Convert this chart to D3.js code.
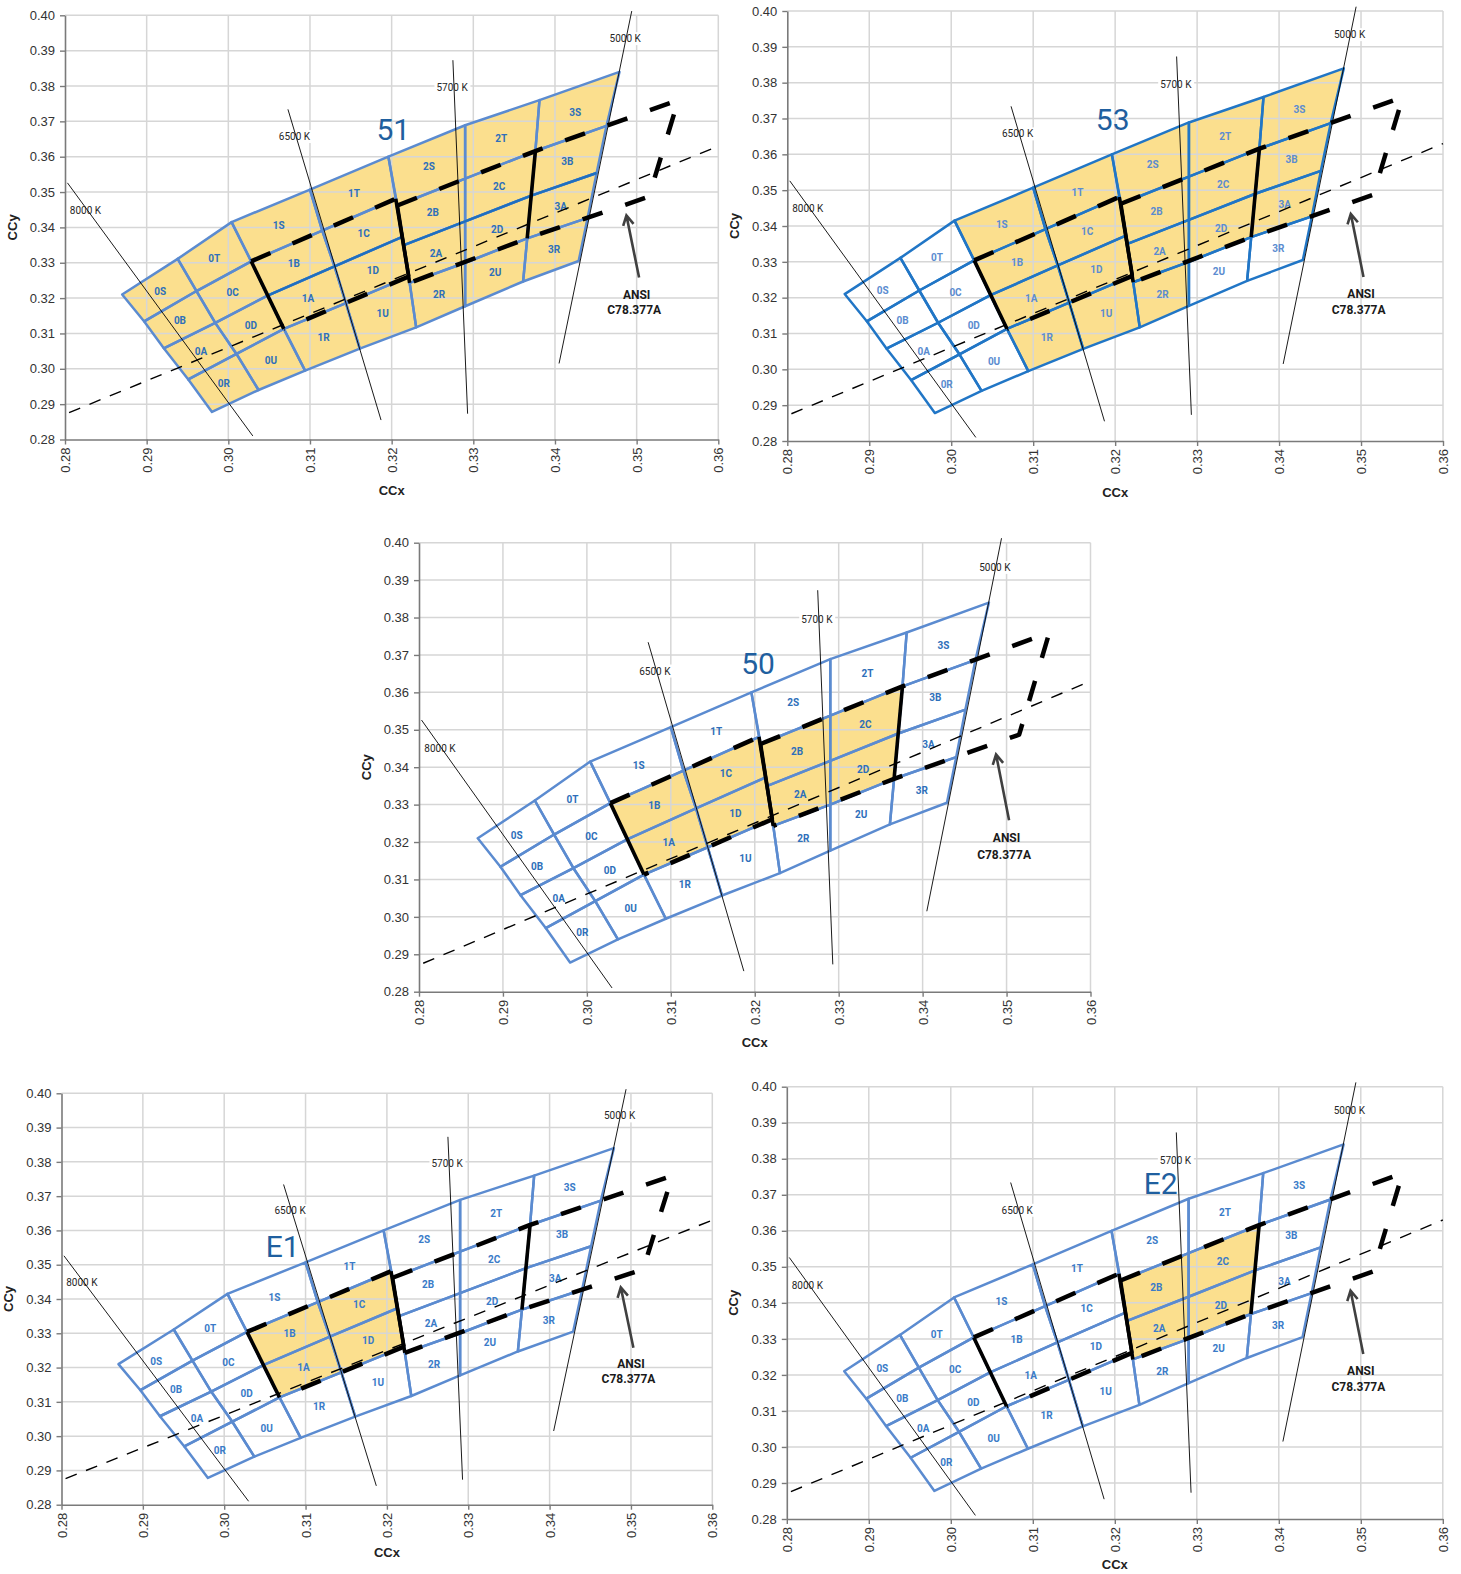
<!DOCTYPE html>
<html>
<head>
<meta charset="utf-8">
<script src="https://cdn.jsdelivr.net/npm/d3@7"></script>
<style>
  body { margin: 0; background: #fff; }
  svg { display: block; }
</style>
</head>
<body>
<svg id="chart" width="1461" height="1574"></svg>
<script>
const X_TICKS = [0.28, 0.29, 0.30, 0.31, 0.32, 0.33, 0.34, 0.35, 0.36];
const Y_TICKS = [0.28, 0.29, 0.30, 0.31, 0.32, 0.33, 0.34, 0.35, 0.36, 0.37, 0.38, 0.39, 0.40];

// bin grid vertices, rows top to bottom. index 4 / 5 = left / right side of the 1x|2x boundary
const ROW_0 = [[0.2870, 0.3210], [0.2938, 0.3311], [0.3004, 0.3415], [0.3100, 0.3507], [0.3196, 0.3600], [0.3196, 0.3600], [0.3290, 0.3689], [0.3381, 0.3760], [0.3479, 0.3840]];
const ROW_1 = [[0.2897, 0.3134], [0.2961, 0.3220], [0.3028, 0.3304], [0.3115, 0.3391], [0.3205, 0.3481], [0.3207, 0.3462], [0.3290, 0.3538], [0.3376, 0.3616], [0.3463, 0.3687]];
const ROW_2 = [[0.2921, 0.3058], [0.2984, 0.3130], [0.3048, 0.3207], [0.3130, 0.3290], [0.3213, 0.3373], [0.3215, 0.3350], [0.3290, 0.3417], [0.3371, 0.3490], [0.3451, 0.3554]];
const ROW_3 = [[0.2951, 0.2970], [0.3010, 0.3042], [0.3068, 0.3113], [0.3144, 0.3186], [0.3221, 0.3261], [0.3222, 0.3243], [0.3290, 0.3300], [0.3366, 0.3369], [0.3440, 0.3427]];
const ROW_4 = [[0.2980, 0.2878], [0.3037, 0.2940], [0.3094, 0.2995], [0.3161, 0.3057], [0.3230, 0.3117], [0.3230, 0.3117], [0.3290, 0.3177], [0.3361, 0.3247], [0.3429, 0.3305]];
const ROWS = [ROW_0, ROW_1, ROW_2, ROW_3, ROW_4];

// bin names per column, top to bottom
const BIN_COLUMNS = [
  ['0S', '0B', '0A', '0R'],
  ['0T', '0C', '0D', '0U'],
  ['1S', '1B', '1A', '1R'],
  ['1T', '1C', '1D', '1U'],
  ['2S', '2B', '2A', '2R'],
  ['2T', '2C', '2D', '2U'],
  ['3S', '3B', '3A', '3R']
];

const FILL_51 = BIN_COLUMNS.flat();
const FILL_53 = ['1S', '1B', '1A', '1R', '1T', '1C', '1D', '1U', '2S', '2B', '2A', '2R', '2T', '2C', '2D', '3S', '3B', '3A'];
const FILL_50 = ['1B', '1A', '1C', '1D', '2B', '2A', '2C', '2D'];
const FILL_E1 = ['1B', '1A', '1C', '1D'];
const FILL_E2 = ['2B', '2A', '2C', '2D'];

// ANSI C78.377A quadrangles
const ANSI_DASH_6500_TOP = [[0.3028, 0.3304], [0.3205, 0.3481]];
const ANSI_DASH_5700_5000 = [[0.3207, 0.3462], [0.3376, 0.3616], [0.3551, 0.3760], [0.3515, 0.3487], [0.3366, 0.3369], [0.3222, 0.3243]];
const ANSI_DASH_6500_BOTTOM = [[0.3221, 0.3261], [0.3068, 0.3113]];
const ANSI_SOLID = [
  [[0.3028, 0.3304], [0.3068, 0.3113]],
  [[0.3205, 0.3481], [0.3221, 0.3261]],
  [[0.3207, 0.3462], [0.3222, 0.3243]],
  [[0.3376, 0.3616], [0.3366, 0.3369]]
];

const LOCUS = [[0.2805, 0.2876], [0.3600, 0.3630]];

const CCT_NAMES = ['8000 K', '6500 K', '5700 K', '5000 K'];
const CCT_LINES = [
  [[0.2803, 0.3526], [0.3030, 0.2810]],
  [[0.3073, 0.3734], [0.3187, 0.2855]],
  [[0.3275, 0.3873], [0.3293, 0.2873]],
  [[0.3494, 0.4012], [0.3405, 0.3015]]
];
const CCT_LABEL_AT = [[0.2825, 0.3449], [0.3081, 0.3657], [0.3274, 0.3795], [0.3486, 0.3934]];

const ANSI_TEXT = ['ANSI', 'C78.377A'];
const ANSI_TEXT_AT = [[0.3500, 0.3210], [0.3497, 0.3166]];
const ANSI_ARROW = [[0.3503, 0.3258], [0.34875, 0.3434]];

const PANELS = [
  { code: '51', left: 65, right: 718.3, top: 15.3, bottom: 439.5, fill: FILL_51, codeAt: [0.3202, 0.3677],
    stroke: '#5b8bd0', dark: [ROW_2.slice(2)], labelColor: '#2e6fba', titleGap: 51 },
  { code: '53', left: 787.3, right: 1443, top: 11, bottom: 441, fill: FILL_53, codeAt: [0.3197, 0.3698],
    stroke: '#2176c6', dark: [], labelColor: '#5b8cd0', titleGap: 51 },
  { code: '50', left: 419, right: 1090.5, top: 542.7, bottom: 991.7, fill: FILL_50, codeAt: [0.3204, 0.3678],
    stroke: '#5b8bd0', dark: [], labelColor: '#2e6fba', titleGap: 51 },
  { code: 'E1', left: 61.5, right: 712.3, top: 1093.3, bottom: 1504.7, fill: FILL_E1, codeAt: [0.3072, 0.3553],
    stroke: '#5b8bd0', dark: [], labelColor: '#3a7bc8', titleGap: 48 },
  { code: 'E2', left: 786.8, right: 1442.8, top: 1086.7, bottom: 1519, fill: FILL_E2, codeAt: [0.3256, 0.3732],
    stroke: '#5b8bd0', dark: [], labelColor: '#3a7bc8', titleGap: 45 }
];

const YELLOW = '#fbdf8e';
const GRID = '#d6d6d6';
const CODE_BLUE = '#1f5f9f';
const fmt = d3.format('.2f');
const svg = d3.select('#chart');

const drawPanel = (p) => {
  const x = d3.scaleLinear().domain([X_TICKS[0], X_TICKS[X_TICKS.length - 1]]).range([p.left, p.right]);
  const y = d3.scaleLinear().domain([Y_TICKS[0], Y_TICKS[Y_TICKS.length - 1]]).range([p.bottom, p.top]);
  const line = d3.line().x(d => x(d[0])).y(d => y(d[1]));

  const g = svg.append('g');
  const fillLayer = g.append('g');
  const gridLayer = g.append('g');
  const bgLayer = g.append('g');
  const binLayer = g.append('g');
  const topLayer = g.append('g');

  // build bin polygons from the vertex grid
  const bins = [];
  BIN_COLUMNS.forEach((names, j) => {
    const li = j < 4 ? j : j + 1;
    const ri = j + 1 <= 4 ? j + 1 : j + 2;
    names.forEach((name, i) => {
      bins.push({ name: name, pts: [ROWS[i][li], ROWS[i][ri], ROWS[i + 1][ri], ROWS[i + 1][li]] });
    });
  });

  fillLayer.selectAll('path')
    .data(bins.filter(b => p.fill.includes(b.name)))
    .join('path')
      .attr('d', b => line(b.pts) + 'Z')
      .attr('fill', YELLOW);

  // gridlines
  gridLayer.selectAll('line.gx')
    .data(X_TICKS.slice(1))
    .join('line')
      .attr('class', 'gx')
      .attr('x1', d => x(d)).attr('x2', d => x(d))
      .attr('y1', y(Y_TICKS[0])).attr('y2', y(Y_TICKS[Y_TICKS.length - 1]))
      .attr('stroke', GRID).attr('stroke-width', 1.5);
  gridLayer.selectAll('line.gy')
    .data(Y_TICKS.slice(1))
    .join('line')
      .attr('class', 'gy')
      .attr('x1', x(X_TICKS[0])).attr('x2', x(X_TICKS[X_TICKS.length - 1]))
      .attr('y1', d => y(d)).attr('y2', d => y(d))
      .attr('stroke', GRID).attr('stroke-width', 1.5);

  // bin outlines
  binLayer.selectAll('path.bin')
    .data(bins)
    .join('path')
      .attr('class', 'bin')
      .attr('d', b => line(b.pts) + 'Z')
      .attr('fill', 'none')
      .attr('stroke', p.stroke)
      .attr('stroke-width', 2.5)
      .attr('stroke-linejoin', 'round');

  binLayer.selectAll('path.dark')
    .data(p.dark)
    .join('path')
      .attr('class', 'dark')
      .attr('d', d => line(d))
      .attr('fill', 'none')
      .attr('stroke', '#1f6fbf')
      .attr('stroke-width', 2.5);

  binLayer.selectAll('text')
    .data(bins)
    .join('text')
      .attr('x', b => x(d3.mean(b.pts, q => q[0])))
      .attr('y', b => y(d3.mean(b.pts, q => q[1])))
      .attr('text-anchor', 'middle')
      .attr('dominant-baseline', 'central')
      .style('font-family', 'Roboto, sans-serif')
      .style('font-weight', 'bold')
      .style('font-size', '10px')
      .style('fill', p.labelColor)
      .text(b => b.name);

  // thin dashed locus
  topLayer.append('path')
    .attr('d', line(LOCUS))
    .attr('fill', 'none')
    .attr('stroke', '#000')
    .attr('stroke-width', 1.4)
    .attr('stroke-dasharray', '12,10');

  // CCT lines and labels
  topLayer.selectAll('path.cct')
    .data(CCT_LINES)
    .join('path')
      .attr('class', 'cct')
      .attr('d', d => line(d))
      .attr('fill', 'none')
      .attr('stroke', '#000')
      .attr('stroke-width', 0.9);

  const cctText = topLayer.selectAll('text.cct')
    .data(CCT_NAMES)
    .join('text')
      .attr('class', 'cct')
      .attr('x', (d, i) => x(CCT_LABEL_AT[i][0]))
      .attr('y', (d, i) => y(CCT_LABEL_AT[i][1]))
      .attr('text-anchor', 'middle')
      .attr('dominant-baseline', 'central')
      .style('font-family', 'Roboto, sans-serif')
      .style('font-size', '10px')
      .style('fill', '#262626')
      .text(d => d);

  cctText.each(function () {
    const bb = this.getBBox();
    bgLayer.append('rect')
      .attr('x', bb.x - 2).attr('y', bb.y - 1)
      .attr('width', bb.width + 4).attr('height', bb.height + 2)
      .attr('fill', '#fff');
  });

  // ANSI quadrangles
  [ANSI_DASH_6500_TOP, ANSI_DASH_5700_5000, ANSI_DASH_6500_BOTTOM].forEach(seg => {
    topLayer.append('path')
      .attr('d', line(seg))
      .attr('fill', 'none')
      .attr('stroke', '#000')
      .attr('stroke-width', 4.5)
      .attr('stroke-linejoin', 'round')
      .attr('stroke-dasharray', '21,24');
  });
  topLayer.selectAll('path.solid')
    .data(ANSI_SOLID)
    .join('path')
      .attr('class', 'solid')
      .attr('d', d => line(d))
      .attr('fill', 'none')
      .attr('stroke', '#000')
      .attr('stroke-width', 3.6);

  topLayer.selectAll('text.ansi')
    .data(ANSI_TEXT)
    .join('text')
      .attr('class', 'ansi')
      .attr('x', (d, i) => x(ANSI_TEXT_AT[i][0]))
      .attr('y', (d, i) => y(ANSI_TEXT_AT[i][1]))
      .attr('text-anchor', 'middle')
      .attr('dominant-baseline', 'central')
      .style('font-family', 'Roboto, sans-serif')
      .style('font-weight', 'bold')
      .style('font-size', '12px')
      .style('fill', '#1a1a1a')
      .text(d => d);

  // arrow pointing at the quadrangles
  const sx = x(ANSI_ARROW[0][0]), sy = y(ANSI_ARROW[0][1]);
  const tx = x(ANSI_ARROW[1][0]), ty = y(ANSI_ARROW[1][1]);
  const len = Math.hypot(tx - sx, ty - sy);
  const ux = (tx - sx) / len, uy = (ty - sy) / len;
  const head = (a) => {
    const c = Math.cos(a), s = Math.sin(a);
    return [tx - 11 * (ux * c - uy * s), ty - 11 * (ux * s + uy * c)];
  };
  const h1 = head(0.5), h2 = head(-0.5);
  topLayer.append('path')
    .attr('d', `M${sx},${sy}L${tx},${ty}M${h1[0]},${h1[1]}L${tx},${ty}L${h2[0]},${h2[1]}`)
    .attr('fill', 'none')
    .attr('stroke', '#404040')
    .attr('stroke-width', 2.6)
    .attr('stroke-linejoin', 'miter');

  // kit code
  topLayer.append('text')
    .attr('x', x(p.codeAt[0]))
    .attr('y', y(p.codeAt[1]))
    .attr('text-anchor', 'middle')
    .attr('dominant-baseline', 'central')
    .style('font-family', 'Roboto, sans-serif')
    .style('font-size', '30px')
    .style('fill', CODE_BLUE)
    .text(p.code);

  // axes
  const yAxis = g.append('g')
    .attr('transform', `translate(${p.left},0)`)
    .call(d3.axisLeft(y).tickValues(Y_TICKS).tickFormat(fmt).tickSize(5).tickSizeOuter(0).tickPadding(5));
  const xAxis = g.append('g')
    .attr('transform', `translate(0,${p.bottom})`)
    .call(d3.axisBottom(x).tickValues(X_TICKS).tickFormat(fmt).tickSize(5).tickSizeOuter(0));

  [yAxis, xAxis].forEach(ax => {
    ax.select('.domain').attr('stroke', '#7a7a7a').attr('stroke-width', 1.6);
    ax.selectAll('.tick line').attr('stroke', '#7a7a7a').attr('stroke-width', 1.4);
    ax.selectAll('.tick text')
      .style('font-family', '"Liberation Sans", Arial, sans-serif')
      .style('font-size', '13px')
      .style('fill', '#333');
  });
  xAxis.selectAll('.tick text')
    .attr('transform', 'rotate(-90)')
    .attr('text-anchor', 'end')
    .attr('x', -8)
    .attr('y', 0)
    .attr('dy', '0.35em');

  g.append('text')
    .attr('transform', `translate(${p.left - 53},${(p.top + p.bottom) / 2}) rotate(-90)`)
    .attr('text-anchor', 'middle')
    .attr('dominant-baseline', 'central')
    .style('font-family', '"Liberation Sans", Arial, sans-serif')
    .style('font-weight', 'bold')
    .style('font-size', '13px')
    .style('fill', '#222')
    .text('CCy');

  g.append('text')
    .attr('x', (p.left + p.right) / 2)
    .attr('y', p.bottom + p.titleGap)
    .attr('text-anchor', 'middle')
    .attr('dominant-baseline', 'central')
    .style('font-family', '"Liberation Sans", Arial, sans-serif')
    .style('font-weight', 'bold')
    .style('font-size', '13px')
    .style('fill', '#222')
    .text('CCx');
};

PANELS.forEach(drawPanel);
</script>
</body>
</html>
